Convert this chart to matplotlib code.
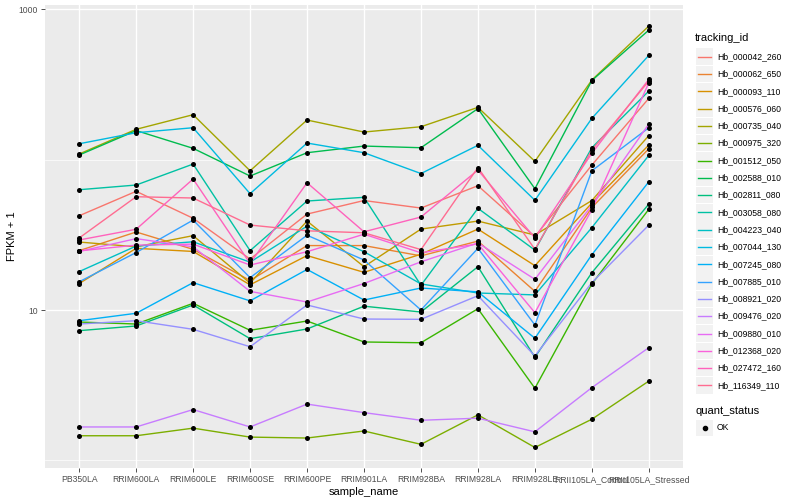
import matplotlib
matplotlib.use("Agg")
import matplotlib.pyplot as plt
from matplotlib.lines import Line2D
from matplotlib.patches import Rectangle

plt.rcParams['font.family'] = ['Liberation Sans', 'DejaVu Sans']

samples = ['PB350LA', 'RRIM600LA', 'RRIM600LE', 'RRIM600SE', 'RRIM600PE', 'RRIM901LA',
           'RRIM928BA', 'RRIM928LA', 'RRIM928LE', 'RRII105LA_Control', 'RRII105LA_Stressed']

tracking_ids = ['Hb_000042_260', 'Hb_000062_650', 'Hb_000093_110', 'Hb_000576_060',
                'Hb_000735_040', 'Hb_000975_320', 'Hb_001512_050', 'Hb_002588_010',
                'Hb_002811_080', 'Hb_003058_080', 'Hb_004223_040', 'Hb_007044_130',
                'Hb_007245_080', 'Hb_007885_010', 'Hb_008921_020', 'Hb_009476_020',
                'Hb_009880_010', 'Hb_012368_020', 'Hb_027472_160', 'Hb_116349_110']

# FPKM + 1 per sample
hb_000042_260 = [42.3, 61.5, 40.7, 21.8, 43.4, 53.4, 47.6, 67.0, 30.7, 91.9, 255.0]
hb_000062_650 = [24.8, 33.0, 25.3, 15.7, 26.8, 26.8, 22.9, 28.7, 13.3, 48.0, 118.0]
hb_000093_110 = [15.0, 25.7, 24.5, 14.7, 23.0, 17.8, 23.5, 34.5, 19.7, 51.4, 124.9]
hb_000576_060 = [28.3, 26.3, 31.2, 15.1, 39.0, 19.4, 34.5, 39.0, 31.5, 53.4, 144.4]
hb_000735_040 = [108.8, 158.8, 198.6, 84.2, 183.0, 152.3, 165.2, 222.2, 97.3, 337.5, 771.0]
hb_000975_320 = [1.46, 1.46, 1.64, 1.43, 1.41, 1.57, 1.28, 2.01, 1.22, 1.88, 3.37]
hb_001512_050 = [8.32, 8.07, 11.08, 7.33, 8.45, 6.13, 6.06, 10.2, 3.02, 14.9, 46.7]
hb_002588_010 = [107.1, 155.8, 118.7, 77.7, 111.0, 122.9, 119.8, 218.0, 64.0, 335.0, 725.0]
hb_002811_080 = [7.29, 7.83, 10.8, 6.45, 7.48, 10.6, 9.70, 19.4, 4.85, 17.7, 50.6]
hb_003058_080 = [63.0, 67.7, 93.3, 24.8, 53.0, 56.1, 14.6, 47.4, 25.0, 119.8, 285.2]
hb_004223_040 = [18.0, 26.6, 28.4, 20.8, 36.1, 24.4, 14.9, 12.97, 12.6, 35.3, 106.6]
hb_007044_130 = [127.3, 150.7, 162.7, 59.3, 128.7, 111.0, 80.7, 124.3, 53.6, 187.8, 492.5]
hb_007245_080 = [8.49, 9.51, 15.2, 11.5, 18.6, 11.65, 14.0, 13.2, 6.49, 23.3, 71.2]
hb_007885_010 = [15.4, 24.1, 39.6, 16.4, 31.4, 21.5, 10.0, 25.7, 7.95, 84.2, 162.7]
hb_008921_020 = [8.07, 8.49, 7.44, 5.70, 10.8, 8.71, 8.67, 12.45, 4.95, 15.2, 36.7]
hb_009476_020 = [1.67, 1.67, 2.18, 1.67, 2.37, 2.08, 1.85, 1.91, 1.55, 3.05, 5.62]
hb_009880_010 = [24.5, 29.8, 26.3, 13.3, 11.3, 15.0, 20.9, 27.9, 16.0, 49.6, 172.1]
hb_012368_020 = [24.7, 27.0, 27.4, 19.9, 24.4, 31.9, 24.0, 27.5, 9.6, 46.5, 323.8]
hb_027472_160 = [29.2, 34.4, 74.2, 20.4, 70.1, 33.1, 41.5, 85.2, 30.1, 110.0, 341.2]
hb_116349_110 = [30.1, 56.6, 55.5, 36.7, 33.6, 32.6, 25.2, 88.5, 25.3, 115.6, 332.3]

series = [hb_000042_260, hb_000062_650, hb_000093_110, hb_000576_060, hb_000735_040,
          hb_000975_320, hb_001512_050, hb_002588_010, hb_002811_080, hb_003058_080,
          hb_004223_040, hb_007044_130, hb_007245_080, hb_007885_010, hb_008921_020,
          hb_009476_020, hb_009880_010, hb_012368_020, hb_027472_160, hb_116349_110]

# ggplot2 default hue palette for 20 groups
colors = ['#F8766D', '#EA8331', '#D89000', '#C09B00', '#A3A500', '#7CAE00', '#39B600',
          '#00BB4E', '#00BF7D', '#00C1A3', '#00BFC4', '#00BAE0', '#00B0F6', '#35A2FF',
          '#9590FF', '#C77CFF', '#E76BF3', '#FA62DB', '#FF62BC', '#FF6C91']

W, H = 800, 500
fig = plt.figure(figsize=(8, 5), dpi=100)
ax = fig.add_axes([45 / W, 1 - 468 / H, (683 - 45) / W, (468 - 5) / H])
ax.set_facecolor('#EBEBEB')

x = list(range(len(samples)))
for vals, c in zip(series, colors):
    ax.plot(x, vals, color=c, lw=1.0, zorder=3)
for vals in series:
    ax.scatter(x, vals, color='black', s=13, zorder=4, linewidths=0)

ax.set_yscale('log')
ax.set_ylim(10 ** -0.05, 10 ** 3.027)
ax.set_xlim(-0.6, len(samples) - 1 + 0.6)
ax.set_yticks([10, 1000])
ax.set_yticklabels(['10', '1000'])
ax.set_yticks([1, 100], minor=True)
ax.set_yticklabels([], minor=True)
ax.set_xticks(x)
ax.set_xticklabels(samples)

ax.grid(True, which='major', color='white', lw=1.0, zorder=0)
ax.grid(True, which='minor', axis='y', color='white', lw=0.5, zorder=0)
ax.set_axisbelow(True)
for s in ax.spines.values():
    s.set_visible(False)
ax.tick_params(which='major', length=3, width=0.6, color='#333333',
               labelsize=6.2, labelcolor='#4D4D4D', pad=2)
ax.tick_params(which='minor', length=0)

ax.set_xlabel('sample_name', fontsize=8, labelpad=2)
ax.set_ylabel('FPKM + 1', fontsize=8, labelpad=1)

# legend, drawn by hand in pixel positions
def fx(px):
    return px / W

def fy(py):
    return 1 - py / H

fig.text(fx(695), fy(38), 'tracking_id', fontsize=8, va='center', ha='left')
row0, step = 56.7, 17.3
for i, (name, c) in enumerate(zip(tracking_ids, colors)):
    yc = row0 + i * step
    fig.add_artist(Rectangle((fx(696), fy(yc + 8.2)), 16.5 / W, 16.5 / H,
                             facecolor='#F2F2F2', edgecolor='none'))
    fig.add_artist(Line2D([fx(698), fx(711)], [fy(yc), fy(yc)], color=c, lw=1.0))
    fig.text(fx(717), fy(yc), name, fontsize=6.2, va='center', ha='left')

fig.text(fx(695), fy(411), 'quant_status', fontsize=8, va='center', ha='left')
fig.add_artist(Rectangle((fx(696), fy(428 + 8.2)), 16.5 / W, 16.5 / H,
                         facecolor='#F2F2F2', edgecolor='none'))
fig.add_artist(Line2D([fx(704.5)], [fy(428)], marker='o', color='black', markersize=3,
                      linestyle='none'))
fig.text(fx(717), fy(428), 'OK', fontsize=6.2, va='center', ha='left')

fig.savefig('out.png', dpi=100)
